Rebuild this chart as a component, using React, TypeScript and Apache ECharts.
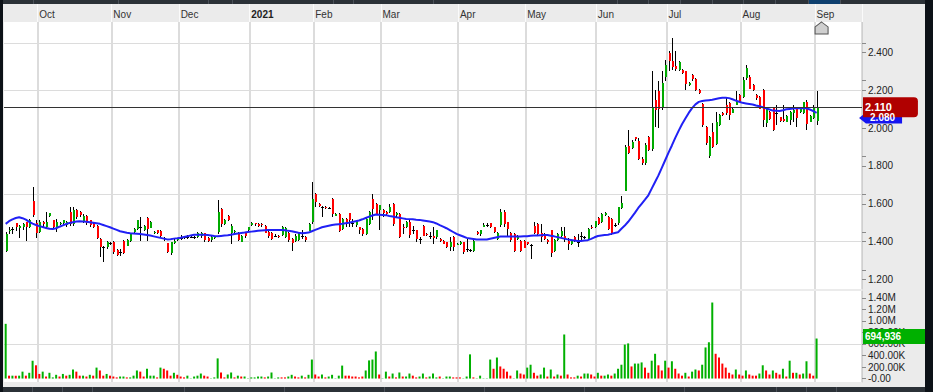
import React, { useEffect, useRef } from 'react';
import * as echarts from 'echarts';

// ---------------- data ----------------
const monthLabels = ['Oct', 'Nov', 'Dec', '2021', 'Feb', 'Mar', 'Apr', 'May', 'Jun', 'Jul', 'Aug', 'Sep'];
const monthStartIdx = [10, 32, 52, 73, 92, 112, 135, 155, 176, 197, 219, 241];
const futureSlots = 13;

const opens = [
  1.352, 1.455, 1.465, 1.497, 1.476, 1.476, 1.503, 1.476, 1.614, 1.497,
  1.450, 1.503, 1.476, 1.535, 1.512, 1.476, 1.494, 1.494, 1.485, 1.556,
  1.494, 1.565, 1.556, 1.508, 1.533, 1.512, 1.494, 1.485, 1.414, 1.372,
  1.370, 1.391, 1.397, 1.357, 1.343, 1.405, 1.379, 1.405, 1.450, 1.462,
  1.480, 1.462, 1.526, 1.473, 1.444, 1.459, 1.455, 1.420, 1.391, 1.338,
  1.397, 1.409, 1.420, 1.423, 1.425, 1.427, 1.427, 1.423, 1.427, 1.444,
  1.420, 1.405, 1.420, 1.450, 1.574, 1.494, 1.538, 1.450, 1.450, 1.444,
  1.402, 1.444, 1.459, 1.490, 1.497, 1.494, 1.494, 1.485, 1.450, 1.444,
  1.430, 1.430, 1.432, 1.423, 1.444, 1.414, 1.405, 1.409, 1.430, 1.423,
  1.459, 1.503, 1.653, 1.600, 1.585, 1.585, 1.580, 1.627, 1.538, 1.547,
  1.467, 1.520, 1.550, 1.500, 1.485, 1.476, 1.467, 1.441, 1.494, 1.627,
  1.600, 1.565, 1.565, 1.556, 1.556, 1.600, 1.538, 1.547, 1.476, 1.476,
  1.503, 1.460, 1.459, 1.414, 1.485, 1.440, 1.430, 1.430, 1.420, 1.414,
  1.405, 1.397, 1.370, 1.423, 1.385, 1.388, 1.397, 1.360, 1.355, 1.352,
  1.450, 1.440, 1.480, 1.490, 1.497, 1.476, 1.414, 1.485, 1.556, 1.503,
  1.444, 1.441, 1.414, 1.405, 1.405, 1.397, 1.380, 1.485, 1.494, 1.444,
  1.441, 1.409, 1.459, 1.352, 1.409, 1.430, 1.430, 1.406, 1.386, 1.427,
  1.400, 1.430, 1.424, 1.415, 1.480, 1.474, 1.525, 1.503, 1.540, 1.530,
  1.520, 1.490, 1.498, 1.580, 1.671, 1.905, 1.898, 1.951, 1.933, 1.839,
  1.813, 1.954, 1.887, 2.149, 2.193, 2.104, 2.272, 2.396, 2.352, 2.329,
  2.304, 2.304, 2.299, 2.228, 2.278, 2.258, 2.202, 2.127, 2.004, 1.852,
  1.980, 1.919, 2.016, 2.080, 2.122, 2.131, 2.082, 2.122, 2.175, 2.166,
  2.264, 2.272, 2.228, 2.175, 2.166, 2.202, 2.025, 2.087, 2.104, 2.082,
  2.057, 2.046, 2.034, 2.043, 2.082, 2.104, 2.082, 2.078, 2.140, 2.034,
  2.051, 2.034,
];

const highs = [
  1.450, 1.475, 1.480, 1.500, 1.490, 1.500, 1.506, 1.520, 1.689, 1.512,
  1.512, 1.510, 1.556, 1.553, 1.515, 1.520, 1.505, 1.515, 1.510, 1.583,
  1.583, 1.570, 1.560, 1.545, 1.540, 1.515, 1.500, 1.490, 1.420, 1.375,
  1.405, 1.400, 1.405, 1.360, 1.361, 1.410, 1.412, 1.445, 1.470, 1.515,
  1.529, 1.490, 1.529, 1.510, 1.455, 1.460, 1.460, 1.423, 1.395, 1.400,
  1.412, 1.418, 1.437, 1.430, 1.435, 1.430, 1.432, 1.450, 1.450, 1.448,
  1.424, 1.430, 1.430, 1.618, 1.576, 1.520, 1.540, 1.494, 1.460, 1.450,
  1.436, 1.450, 1.480, 1.505, 1.500, 1.497, 1.497, 1.490, 1.455, 1.450,
  1.440, 1.435, 1.485, 1.480, 1.450, 1.420, 1.440, 1.450, 1.459, 1.430,
  1.500, 1.715, 1.655, 1.605, 1.590, 1.590, 1.583, 1.630, 1.550, 1.550,
  1.525, 1.523, 1.553, 1.520, 1.515, 1.480, 1.470, 1.525, 1.560, 1.653,
  1.605, 1.595, 1.570, 1.560, 1.600, 1.605, 1.555, 1.550, 1.494, 1.508,
  1.512, 1.485, 1.460, 1.423, 1.490, 1.445, 1.450, 1.476, 1.462, 1.418,
  1.410, 1.400, 1.423, 1.432, 1.395, 1.405, 1.400, 1.414, 1.360, 1.410,
  1.455, 1.462, 1.500, 1.497, 1.500, 1.480, 1.450, 1.574, 1.565, 1.505,
  1.450, 1.444, 1.436, 1.410, 1.410, 1.400, 1.390, 1.503, 1.500, 1.494,
  1.445, 1.412, 1.460, 1.412, 1.444, 1.477, 1.477, 1.420, 1.410, 1.430,
  1.441, 1.450, 1.430, 1.470, 1.486, 1.510, 1.530, 1.552, 1.556, 1.535,
  1.525, 1.500, 1.585, 1.639, 1.910, 1.990, 1.935, 1.955, 1.945, 1.845,
  1.920, 1.960, 2.300, 2.200, 2.246, 2.299, 2.360, 2.405, 2.476, 2.405,
  2.352, 2.310, 2.300, 2.245, 2.285, 2.265, 2.205, 2.130, 2.010, 1.960,
  2.025, 2.087, 2.075, 2.085, 2.166, 2.135, 2.105, 2.193, 2.180, 2.272,
  2.334, 2.280, 2.230, 2.180, 2.170, 2.205, 2.113, 2.090, 2.110, 2.122,
  2.060, 2.122, 2.070, 2.090, 2.122, 2.113, 2.105, 2.140, 2.149, 2.070,
  2.122, 2.193,
];

const lows = [
  1.345, 1.440, 1.440, 1.455, 1.420, 1.460, 1.405, 1.470, 1.529, 1.420,
  1.444, 1.480, 1.470, 1.530, 1.470, 1.450, 1.490, 1.490, 1.480, 1.485,
  1.485, 1.520, 1.530, 1.500, 1.490, 1.480, 1.470, 1.414, 1.317, 1.290,
  1.360, 1.385, 1.335, 1.325, 1.326, 1.335, 1.375, 1.400, 1.445, 1.460,
  1.405, 1.455, 1.402, 1.470, 1.440, 1.440, 1.420, 1.405, 1.338, 1.330,
  1.390, 1.405, 1.409, 1.415, 1.415, 1.420, 1.414, 1.420, 1.420, 1.400,
  1.400, 1.400, 1.415, 1.440, 1.480, 1.490, 1.510, 1.388, 1.440, 1.405,
  1.400, 1.420, 1.455, 1.485, 1.485, 1.480, 1.480, 1.445, 1.420, 1.410,
  1.425, 1.420, 1.430, 1.420, 1.400, 1.352, 1.400, 1.405, 1.414, 1.400,
  1.455, 1.494, 1.583, 1.585, 1.529, 1.575, 1.570, 1.530, 1.535, 1.450,
  1.460, 1.476, 1.476, 1.476, 1.480, 1.441, 1.430, 1.435, 1.490, 1.512,
  1.540, 1.459, 1.530, 1.540, 1.550, 1.485, 1.530, 1.420, 1.441, 1.470,
  1.420, 1.440, 1.400, 1.388, 1.430, 1.430, 1.414, 1.388, 1.415, 1.400,
  1.388, 1.365, 1.352, 1.352, 1.380, 1.380, 1.335, 1.343, 1.345, 1.345,
  1.435, 1.430, 1.475, 1.476, 1.470, 1.445, 1.410, 1.476, 1.476, 1.432,
  1.400, 1.343, 1.410, 1.345, 1.365, 1.380, 1.308, 1.441, 1.435, 1.397,
  1.410, 1.390, 1.320, 1.345, 1.405, 1.424, 1.397, 1.357, 1.380, 1.400,
  1.371, 1.406, 1.415, 1.410, 1.465, 1.470, 1.490, 1.500, 1.535, 1.460,
  1.435, 1.477, 1.490, 1.575, 1.665, 1.865, 1.890, 1.930, 1.830, 1.804,
  1.804, 1.880, 1.880, 2.004, 1.998, 2.096, 2.246, 2.300, 2.308, 2.300,
  2.300, 2.285, 2.200, 2.220, 2.250, 2.195, 2.180, 2.007, 1.910, 1.840,
  1.893, 1.910, 2.010, 2.065, 2.069, 2.043, 2.078, 2.120, 2.135, 2.157,
  2.255, 2.205, 2.195, 2.150, 2.100, 2.007, 2.007, 2.045, 1.985, 2.016,
  2.030, 2.030, 2.030, 2.016, 2.034, 2.004, 2.078, 2.075, 1.990, 2.030,
  2.050, 2.016,
];

const closes = [
  1.441, 1.462, 1.465, 1.476, 1.485, 1.494, 1.476, 1.515, 1.538, 1.444,
  1.503, 1.494, 1.503, 1.550, 1.476, 1.503, 1.500, 1.512, 1.503, 1.494,
  1.568, 1.529, 1.538, 1.538, 1.494, 1.485, 1.476, 1.420, 1.370, 1.370,
  1.397, 1.393, 1.343, 1.331, 1.343, 1.343, 1.409, 1.441, 1.467, 1.512,
  1.480, 1.485, 1.467, 1.503, 1.450, 1.444, 1.427, 1.420, 1.343, 1.397,
  1.405, 1.414, 1.420, 1.423, 1.425, 1.427, 1.427, 1.444, 1.444, 1.405,
  1.405, 1.423, 1.425, 1.556, 1.494, 1.515, 1.515, 1.485, 1.455, 1.409,
  1.432, 1.427, 1.476, 1.500, 1.490, 1.485, 1.488, 1.450, 1.427, 1.414,
  1.430, 1.425, 1.476, 1.473, 1.409, 1.391, 1.432, 1.444, 1.430, 1.405,
  1.494, 1.627, 1.609, 1.590, 1.585, 1.578, 1.580, 1.547, 1.547, 1.455,
  1.520, 1.494, 1.512, 1.500, 1.512, 1.459, 1.441, 1.520, 1.556, 1.574,
  1.547, 1.591, 1.550, 1.547, 1.583, 1.494, 1.550, 1.423, 1.470, 1.503,
  1.432, 1.460, 1.409, 1.414, 1.432, 1.435, 1.430, 1.420, 1.459, 1.405,
  1.391, 1.370, 1.397, 1.370, 1.388, 1.400, 1.343, 1.360, 1.355, 1.405,
  1.440, 1.459, 1.490, 1.490, 1.476, 1.450, 1.444, 1.556, 1.494, 1.467,
  1.405, 1.352, 1.432, 1.352, 1.370, 1.385, 1.380, 1.450, 1.441, 1.423,
  1.414, 1.397, 1.335, 1.409, 1.441, 1.455, 1.420, 1.390, 1.403, 1.410,
  1.400, 1.430, 1.424, 1.468, 1.475, 1.507, 1.494, 1.544, 1.550, 1.468,
  1.441, 1.490, 1.583, 1.604, 1.901, 1.870, 1.928, 1.942, 1.839, 1.816,
  1.910, 1.887, 2.104, 2.096, 2.096, 2.237, 2.334, 2.352, 2.322, 2.311,
  2.348, 2.290, 2.228, 2.240, 2.255, 2.202, 2.184, 2.016, 1.919, 1.954,
  1.901, 2.034, 2.069, 2.070, 2.078, 2.069, 2.101, 2.145, 2.140, 2.255,
  2.317, 2.210, 2.202, 2.157, 2.104, 2.043, 2.104, 2.051, 1.990, 2.080,
  2.034, 2.036, 2.064, 2.087, 2.096, 2.051, 2.099, 2.135, 2.025, 2.064,
  2.104, 2.110,
];

// volume in thousands of shares
const volumeK = [
  950, 50, 50, 50, 50, 120, 50, 100, 310, 230,
  80, 120, 35, 100, 20, 65, 35, 80, 50, 65,
  157, 120, 50, 50, 35, 65, 50, 190, 140, 50,
  80, 50, 35, 20, 35, 35, 20, 20, 50, 140,
  120, 35, 170, 50, 50, 20, 190, 170, 140, 50,
  100, 65, 35, 20, 50, 5, 35, 50, 87, 50,
  35, 5, 20, 350, 105, 20, 70, 105, 20, 50,
  35, 35, 5, 20, 20, 35, 35, 20, 35, 105,
  5, 20, 20, 20, 35, 65, 35, 20, 50, 20,
  65, 330, 70, 35, 70, 20, 35, 65, 5, 50,
  225, 50, 50, 35, 35, 20, 35, 140, 315, 330,
  470, 70, 5, 120, 35, 87, 20, 105, 35, 35,
  87, 50, 20, 35, 87, 20, 35, 87, 20, 35,
  5, 35, 35, 20, 20, 20, 5, 35, 420, 20,
  5, 50, 5, 5, 330, 170, 365, 210, 170, 120,
  50, 5, 140, 87, 70, 190, 240, 100, 50, 70,
  190, 35, 157, 35, 70, 50, 765, 70, 20, 20,
  50, 35, 87, 87, 70, 35, 100, 50, 50, 70,
  50, 87, 170, 240, 590, 610, 210, 260, 260, 280,
  190, 100, 310, 430, 230, 140, 310, 190, 300, 170,
  87, 50, 100, 35, 120, 157, 140, 240, 540, 630,
  1320, 430, 365, 260, 190, 100, 70, 157, 70, 50,
  140, 70, 50, 50, 87, 230, 140, 70, 140, 100,
  70, 170, 35, 310, 100, 100, 70, 87, 300, 87,
  50, 694.936,
];

// colour of each volume bar as shown (1 = green, 0 = red)
const volumeUp = [
  1, 0, 1, 0, 1, 1, 0, 1, 1, 0,
  0, 1, 0, 1, 1, 1, 0, 1, 0, 1,
  1, 0, 0, 1, 0, 1, 0, 1, 0, 0,
  1, 0, 0, 0, 1, 1, 0, 1, 1, 1,
  0, 0, 1, 1, 1, 0, 1, 0, 0, 0,
  1, 0, 0, 0, 1, 1, 1, 1, 1, 0,
  0, 1, 1, 1, 0, 0, 1, 1, 0, 1,
  0, 1, 1, 1, 1, 1, 1, 0, 1, 1,
  1, 1, 0, 0, 1, 1, 0, 0, 1, 0,
  1, 1, 0, 0, 1, 0, 1, 1, 1, 1,
  1, 0, 0, 0, 0, 0, 0, 1, 1, 1,
  1, 0, 1, 1, 0, 1, 0, 1, 0, 1,
  1, 0, 0, 1, 1, 0, 1, 1, 1, 0,
  1, 1, 1, 0, 0, 0, 1, 1, 1, 0,
  1, 1, 1, 1, 1, 0, 1, 0, 0, 0,
  0, 1, 1, 0, 0, 1, 1, 0, 0, 1,
  1, 0, 1, 0, 1, 0, 1, 0, 0, 0,
  1, 0, 1, 1, 0, 0, 1, 0, 1, 1,
  0, 1, 1, 1, 1, 1, 0, 1, 1, 1,
  0, 0, 1, 1, 0, 0, 1, 0, 1, 0,
  0, 0, 1, 0, 1, 1, 0, 1, 1, 1,
  1, 0, 0, 0, 0, 0, 0, 1, 0, 0,
  1, 0, 0, 0, 1, 1, 0, 0, 1, 0,
  0, 1, 0, 1, 0, 1, 0, 1, 1, 0,
  0, 1,
];

// moving average line (blue)
const movingAvg = [
  1.494, 1.508, 1.518, 1.525, 1.529, 1.524, 1.516, 1.505, 1.495, 1.488,
  1.482, 1.477, 1.472, 1.468, 1.467, 1.471, 1.479, 1.486, 1.493, 1.499,
  1.503, 1.506, 1.508, 1.507, 1.505, 1.503, 1.500, 1.497, 1.494, 1.488,
  1.482, 1.476, 1.469, 1.462, 1.455, 1.451, 1.447, 1.444, 1.443, 1.442,
  1.441, 1.438, 1.435, 1.432, 1.428, 1.424, 1.420, 1.416, 1.412, 1.413,
  1.416, 1.418, 1.421, 1.425, 1.428, 1.433, 1.437, 1.437, 1.436, 1.436,
  1.435, 1.433, 1.430, 1.428, 1.430, 1.432, 1.434, 1.437, 1.440, 1.443,
  1.446, 1.448, 1.451, 1.453, 1.455, 1.457, 1.459, 1.460, 1.461, 1.462,
  1.462, 1.462, 1.462, 1.460, 1.457, 1.455, 1.451, 1.447, 1.444, 1.446,
  1.448, 1.455, 1.462, 1.469, 1.476, 1.480, 1.484, 1.488, 1.490, 1.492,
  1.494, 1.497, 1.500, 1.504, 1.508, 1.512, 1.518, 1.525, 1.532, 1.538,
  1.543, 1.542, 1.541, 1.540, 1.536, 1.533, 1.529, 1.526, 1.523, 1.520,
  1.519, 1.518, 1.516, 1.515, 1.512, 1.509, 1.506, 1.503, 1.496, 1.487,
  1.479, 1.471, 1.461, 1.451, 1.441, 1.434, 1.427, 1.420, 1.417, 1.414,
  1.411, 1.411, 1.411, 1.411, 1.415, 1.419, 1.423, 1.427, 1.427, 1.427,
  1.427, 1.427, 1.427, 1.427, 1.428, 1.429, 1.431, 1.432, 1.433, 1.434,
  1.435, 1.435, 1.431, 1.428, 1.424, 1.420, 1.416, 1.412, 1.409, 1.406,
  1.403, 1.404, 1.406, 1.408, 1.415, 1.423, 1.430, 1.433, 1.435, 1.437,
  1.441, 1.446, 1.450, 1.468, 1.485, 1.505, 1.528, 1.552, 1.578, 1.600,
  1.622, 1.645, 1.680, 1.715, 1.750, 1.790, 1.830, 1.870, 1.908, 1.948,
  1.985, 2.020, 2.050, 2.080, 2.105, 2.125, 2.138, 2.143, 2.145, 2.147,
  2.149, 2.153, 2.157, 2.160, 2.160, 2.158, 2.152, 2.145, 2.139, 2.133,
  2.130, 2.127, 2.124, 2.119, 2.115, 2.110, 2.104, 2.098, 2.092, 2.091,
  2.090, 2.094, 2.099, 2.101, 2.103, 2.104, 2.104, 2.104, 2.104, 2.098,
  2.090, 2.080,
];

const priceLabelTicks = [1.2, 1.4, 1.6, 1.8, 2.0, 2.2, 2.4];
const priceExtraTicks = [1.25, 1.45, 1.65, 1.85, 2.05, 2.25, 2.45];
const volumeLabelTicks = [0, 200000, 400000, 600000, 800000, 1000000, 1200000, 1400000];

// ---------------- styling ----------------
const UP = '#00aa00';
const DOWN = '#ff0000';
const VOL_UP = '#00b000';
const FONT = '"Liberation Sans", Arial, Helvetica, sans-serif';
const GRID_LINE = '#dcdcdc';
const NONE = 'rgba(0,0,0,0)';

export default function App() {
  const ref = useRef<HTMLDivElement>(null);

  useEffect(() => {
    if (!ref.current) return;
    const chart = echarts.init(ref.current, null, { renderer: 'svg' });

    const n = opens.length;
    const lastIdx = n - 1;
    const categories = Array.from({ length: n + futureSlots }, (_, i) => String(i));
    const monthSet = new Set(monthStartIdx);
    const isMonth = (i: number) => monthSet.has(i);

    const candleData = opens.map((o, i) => [i, o, closes[i], lows[i], highs[i]]);
    const volumes = volumeK.map((v) => Math.round(v * 1000));
    const volumeData = volumes.map((v, i) => ({
      value: v,
      itemStyle: { color: volumeUp[i] ? VOL_UP : DOWN },
    }));
    const lastClose = closes[lastIdx];
    const maLast = movingAvg[lastIdx];
    const lastVolume = volumes[lastIdx];

    const renderCandle = (_params: any, api: any) => {
      const idx = api.value(0);
      const o = api.value(1);
      const c = api.value(2);
      const l = api.value(3);
      const h = api.value(4);
      const pO = api.coord([idx, o]);
      const pC = api.coord([idx, c]);
      const pL = api.coord([idx, l]);
      const pH = api.coord([idx, h]);
      const cx = Math.round(pO[0]);
      const wickX = cx + 0.5;
      const top = Math.min(pO[1], pC[1]);
      const bottom = Math.max(pO[1], pC[1]);
      const doji = Math.abs(c - o) < 0.0025;
      const children: any[] = [
        {
          type: 'line',
          shape: { x1: wickX, y1: Math.round(pH[1]), x2: wickX, y2: Math.round(pL[1]) },
          style: { stroke: '#000', lineWidth: 1 },
        },
      ];
      if (doji) {
        children.push({
          type: 'rect',
          shape: { x: cx - 1, y: Math.round((top + bottom) / 2), width: 3, height: 1 },
          style: { fill: '#000' },
        });
      } else {
        children.push({
          type: 'rect',
          shape: { x: cx, y: Math.round(top), width: 2, height: Math.max(1, Math.round(bottom - top)) },
          style: { fill: c > o ? UP : DOWN },
        });
      }
      return { type: 'group', children };
    };

    const fmtPrice = (v: number) =>
      priceLabelTicks.some((t) => Math.abs(t - v) < 1e-6) ? v.toFixed(3) : '';
    const fmtVol = (v: number) => {
      const r = Math.round(v);
      if (!volumeLabelTicks.includes(r)) return '';
      if (r === 0) return '-0.00';
      return r >= 1000000 ? (r / 1000000).toFixed(2) + 'M' : (r / 1000).toFixed(2) + 'K';
    };

    const topDividers = [33, 118, 208, 232, 333, 353, 433, 617, 648, 680, 712, 743, 775, 808, 840];
    const bottomDividers = [32, 62, 92, 184, 284, 384, 484, 584, 684, 776, 806, 836];

    const graphic: any[] = [
      { type: 'rect', shape: { x: 0, y: 0, width: 933, height: 4 }, style: { fill: '#2b3137' }, silent: true, z: 100 },
      { type: 'rect', shape: { x: 808, y: 0, width: 32, height: 4 }, style: { fill: '#0d3f6e' }, silent: true, z: 101 },
      { type: 'rect', shape: { x: 0, y: 387, width: 933, height: 5 }, style: { fill: '#2b3137' }, silent: true, z: 100 },
      { type: 'rect', shape: { x: 0, y: 0, width: 3, height: 392 }, style: { fill: '#0c1117' }, silent: true, z: 102 },
      { type: 'rect', shape: { x: 925, y: 0, width: 8, height: 392 }, style: { fill: '#0c1117' }, silent: true, z: 102 },
      ...topDividers.map((x) => ({
        type: 'rect', shape: { x, y: 0, width: 1, height: 4 }, style: { fill: '#4a5058' }, silent: true, z: 101,
      })),
      ...bottomDividers.map((x) => ({
        type: 'rect', shape: { x, y: 387, width: 1, height: 5 }, style: { fill: '#4a5058' }, silent: true, z: 101,
      })),
    ];

    const option: any = {
      animation: false,
      backgroundColor: '#ebebeb',
      textStyle: { fontFamily: FONT },
      graphic,
      grid: [
        { left: 4, top: 22, width: 858, height: 267, show: true, backgroundColor: '#ffffff', borderWidth: 0 },
        { left: 4, top: 291, width: 858, height: 91, show: true, backgroundColor: '#ffffff', borderWidth: 0 },
      ],
      xAxis: [
        {
          type: 'category',
          gridIndex: 0,
          data: categories,
          position: 'top',
          boundaryGap: true,
          axisLine: { show: false },
          axisTick: {
            show: true,
            interval: (i: number) => isMonth(i),
            length: 18,
            lineStyle: { color: '#fafafa', width: 1 },
          },
          axisLabel: {
            show: true,
            interval: (i: number) => isMonth(i),
            formatter: (_v: string, i: number) => {
              const k = monthStartIdx.indexOf(i);
              if (k < 0) return '';
              const t = monthLabels[k];
              return t === '2021' ? `{b|${t}}` : t;
            },
            align: 'left',
            margin: 3,
            color: '#333',
            fontSize: 10,
            fontFamily: FONT,
            rich: { b: { fontWeight: 'bold', color: '#222', fontSize: 10, fontFamily: FONT } },
          },
          splitLine: {
            show: true,
            interval: (i: number) => isMonth(i),
            lineStyle: { color: GRID_LINE, width: 2 },
          },
        },
        {
          type: 'category',
          gridIndex: 1,
          data: categories,
          boundaryGap: true,
          axisLine: { show: false },
          axisTick: { show: false },
          axisLabel: { show: false },
          splitLine: {
            show: true,
            interval: (i: number) => isMonth(i),
            lineStyle: { color: GRID_LINE, width: 2 },
          },
        },
      ],
      yAxis: [
        {
          type: 'value',
          gridIndex: 0,
          position: 'right',
          min: 1.15,
          max: 2.56,
          interval: 0.05,
          axisLine: { show: true, lineStyle: { color: '#cfcfcf', width: 1 } },
          axisTick: {
            show: true,
            length: 4,
            customValues: [...priceLabelTicks, ...priceExtraTicks],
            lineStyle: { color: '#8a8a8a' },
          },
          axisLabel: { formatter: fmtPrice, color: '#222', fontSize: 10, fontFamily: FONT, margin: 6 },
          splitLine: { show: true, lineStyle: { color: [NONE, GRID_LINE, NONE, NONE], width: 1 } },
        },
        {
          type: 'value',
          gridIndex: 1,
          position: 'right',
          min: -60000,
          max: 1520000,
          interval: 20000,
          axisLine: { show: true, lineStyle: { color: '#cfcfcf', width: 1 } },
          axisTick: {
            show: true,
            length: 4,
            customValues: volumeLabelTicks,
            lineStyle: { color: '#8a8a8a' },
          },
          axisLabel: { formatter: fmtVol, color: '#222', fontSize: 10, fontFamily: FONT, margin: 6 },
          splitLine: {
            show: true,
            lineStyle: { color: [NONE, NONE, NONE, GRID_LINE, NONE, NONE, NONE, NONE, NONE, NONE], width: 1 },
          },
        },
      ],
      series: [
        {
          name: 'Price',
          type: 'custom',
          xAxisIndex: 0,
          yAxisIndex: 0,
          renderItem: renderCandle,
          encode: { x: 0, y: [1, 2, 3, 4] },
          data: candleData,
          silent: true,
          z: 2,
        },
        {
          name: 'MA',
          type: 'line',
          xAxisIndex: 0,
          yAxisIndex: 0,
          data: movingAvg,
          showSymbol: false,
          symbol: 'none',
          silent: true,
          lineStyle: { color: '#2020f5', width: 2 },
          z: 3,
          markPoint: {
            silent: true,
            animation: false,
            data: [
              {
                coord: [String(lastIdx), maLast],
                symbol: 'path://M0,6 L7,0 L44,0 L44,12 L7,12 Z',
                symbolSize: [43, 11],
                symbolOffset: [64, 5],
                itemStyle: { color: '#1414f0' },
                label: {
                  show: true,
                  position: 'inside',
                  formatter: maLast.toFixed(3),
                  color: '#fff',
                  fontSize: 10,
                  fontWeight: 'bold',
                  fontFamily: FONT,
                  offset: [2, 0],
                },
              },
              {
                coord: [String(lastIdx), 2.56],
                symbol: 'path://M6,0 L12,5 L12,12 L0,12 L0,5 Z',
                symbolSize: [13, 12],
                symbolOffset: [5, 6],
                itemStyle: { color: '#cfcfcf', borderColor: '#555', borderWidth: 1 },
                label: { show: false },
              },
            ],
          },
        },
        {
          name: 'Last',
          type: 'line',
          xAxisIndex: 0,
          yAxisIndex: 0,
          data: [],
          silent: true,
          z: 10,
          markLine: {
            silent: true,
            animation: false,
            symbol: ['none', 'none'],
            lineStyle: { color: '#333', width: 1, type: 'solid' },
            label: {
              show: true,
              position: 'end',
              distance: 1,
              formatter: lastClose.toFixed(3),
              color: '#fff',
              fontSize: 11,
              fontWeight: 'bold',
              fontFamily: FONT,
              backgroundColor: '#b00000',
              padding: [5, 26, 4, 2],
              borderRadius: [0, 4, 4, 0],
            },
            data: [{ yAxis: lastClose }],
          },
        },
        {
          name: 'Volume',
          type: 'bar',
          xAxisIndex: 1,
          yAxisIndex: 1,
          data: volumeData,
          barWidth: 2,
          silent: true,
          z: 2,
          markLine: {
            silent: true,
            animation: false,
            symbol: ['none', 'none'],
            lineStyle: { color: NONE, width: 1, type: 'solid' },
            label: {
              show: true,
              position: 'end',
              distance: 1,
              formatter: lastVolume.toLocaleString('en-US'),
              color: '#fff',
              fontSize: 10,
              fontWeight: 'bold',
              fontFamily: FONT,
              backgroundColor: '#00b000',
              padding: [3, 24, 2, 2],
              offset: [0, -2],
            },
            data: [{ yAxis: lastVolume }],
          },
        },
      ],
    };

    chart.setOption(option);
    return () => chart.dispose();
  }, []);

  return (
    <div
      ref={ref}
      style={{ position: 'fixed', left: 0, top: 0, width: 933, height: 392 }}
    />
  );
}
